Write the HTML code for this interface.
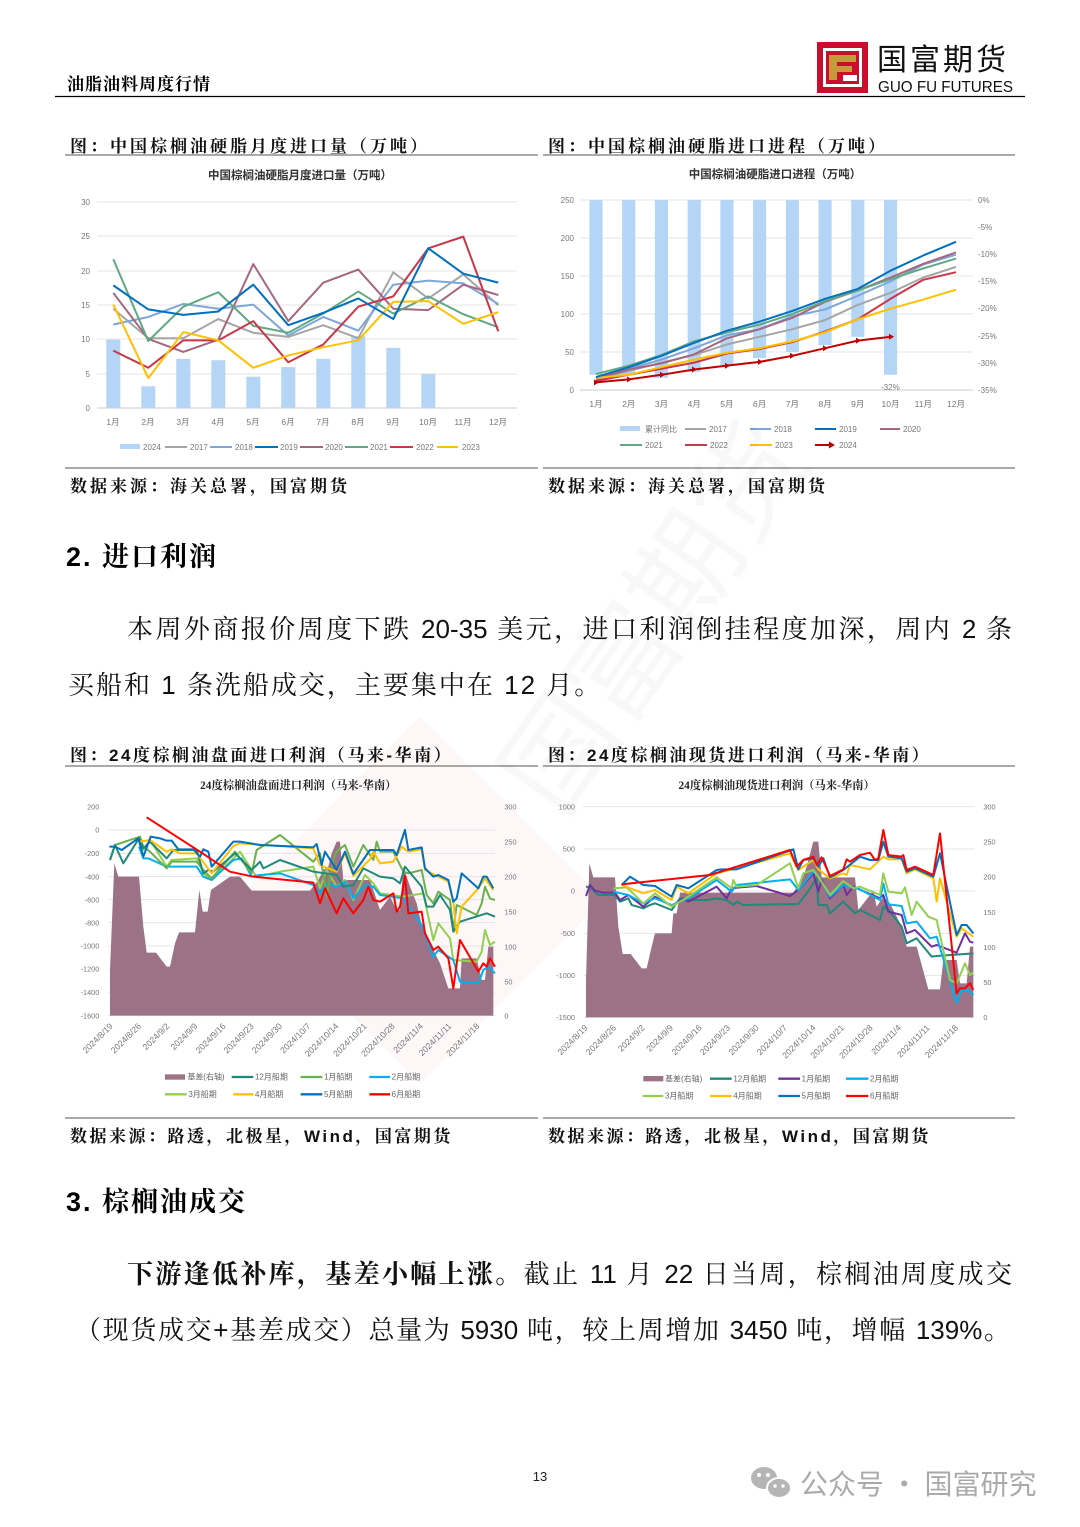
<!DOCTYPE html>
<html><head><meta charset="utf-8"><style>
body{margin:0;background:#fff;}
#pg{position:relative;width:1080px;height:1527px;overflow:hidden;background:#fff;font-family:"Liberation Sans","Noto Sans CJK SC",sans-serif;}
.t{position:absolute;white-space:nowrap;}
.cap{font-family:"Liberation Sans","Noto Serif CJK SC",serif;font-weight:bold;font-size:17px;letter-spacing:3px;color:#111;}
.para{position:absolute;font-family:"Liberation Sans","Noto Serif CJK SC",serif;font-size:26px;color:#111;white-space:nowrap;}
.j{text-align:justify;text-align-last:justify;white-space:normal;}
svg text{font-family:"Liberation Sans","Noto Sans CJK SC",sans-serif;}
</style></head><body><div id="pg">
<svg width="1080" height="1527" style="position:absolute;left:0;top:0">
<!-- header -->
<line x1="55" y1="96.5" x2="1025" y2="96.5" stroke="#000" stroke-width="1.2"/>
<rect x="817" y="42" width="51" height="51" fill="#c8102e"/>
<rect x="823" y="48" width="39" height="39" fill="#fff"/>
<rect x="826" y="51" width="33" height="33" fill="#c8102e"/>
<path d="M829 55 H856 V62 H837 V66 H852 V72 H837 V80 H829 Z" fill="#c49a3a"/>
<path d="M840 72 H858 V84 H840 Z" fill="#c8102e"/>
<rect x="843" y="75" width="14" height="6" fill="#fff"/>
<text x="877" y="70" font-size="30" fill="#111" style="font-family:'Noto Sans CJK SC',sans-serif" letter-spacing="3">国富期货</text>
<text x="878" y="92" font-size="16" fill="#111" textLength="135" lengthAdjust="spacingAndGlyphs">GUO  FU  FUTURES</text>
<!-- caption lines -->
<line x1="65" y1="155" x2="538" y2="155" stroke="#555" stroke-width="1"/>
<line x1="543" y1="155" x2="1015" y2="155" stroke="#555" stroke-width="1"/>
<line x1="65" y1="468" x2="538" y2="468" stroke="#555" stroke-width="1"/>
<line x1="543" y1="468" x2="1015" y2="468" stroke="#555" stroke-width="1"/>
<line x1="65" y1="766" x2="538" y2="766" stroke="#555" stroke-width="1"/>
<line x1="543" y1="766" x2="1015" y2="766" stroke="#555" stroke-width="1"/>
<line x1="65" y1="1118" x2="538" y2="1118" stroke="#555" stroke-width="1"/>
<line x1="543" y1="1118" x2="1015" y2="1118" stroke="#555" stroke-width="1"/>

<!-- ===== Chart 1 ===== -->
<text x="300" y="179" font-size="11.5" font-weight="bold" text-anchor="middle" fill="#333">中国棕榈油硬脂月度进口量（万吨）</text>
<g stroke="#e4e4e4" stroke-width="1">
<line x1="97" y1="202" x2="517" y2="202"/><line x1="97" y1="236" x2="517" y2="236"/><line x1="97" y1="271" x2="517" y2="271"/><line x1="97" y1="305" x2="517" y2="305"/><line x1="97" y1="339" x2="517" y2="339"/><line x1="97" y1="374" x2="517" y2="374"/><line x1="97" y1="408" x2="517" y2="408" stroke="#ccc"/>
</g>
<g font-size="8" fill="#777" text-anchor="end">
<text x="90" y="205">30</text><text x="90" y="239">25</text><text x="90" y="274">20</text><text x="90" y="308">15</text><text x="90" y="342">10</text><text x="90" y="377">5</text><text x="90" y="411">0</text>
</g>
<g font-size="8.5" fill="#777" text-anchor="middle">
<text x="113" y="425">1月</text><text x="148" y="425">2月</text><text x="183" y="425">3月</text><text x="218" y="425">4月</text><text x="253" y="425">5月</text><text x="288" y="425">6月</text><text x="323" y="425">7月</text><text x="358" y="425">8月</text><text x="393" y="425">9月</text><text x="428" y="425">10月</text><text x="463" y="425">11月</text><text x="498" y="425">12月</text>
</g>
<svg x="113.3" y="202.3" width="385" height="206" viewBox="0 0 11 30" preserveAspectRatio="none" overflow="visible">
<g fill="#b4d5f5">
<rect x="-0.2" y="20" width="0.4" height="10"/><rect x="0.8" y="26.8" width="0.4" height="3.2"/><rect x="1.8" y="22.8" width="0.4" height="7.2"/><rect x="2.8" y="23" width="0.4" height="7"/><rect x="3.8" y="25.4" width="0.4" height="4.6"/><rect x="4.8" y="24" width="0.4" height="6"/><rect x="5.8" y="22.8" width="0.4" height="7.2"/><rect x="6.8" y="19.5" width="0.4" height="10.5"/><rect x="7.8" y="21.2" width="0.4" height="8.8"/><rect x="8.8" y="25" width="0.4" height="5"/>
</g>
<g fill="none" stroke-width="2" stroke-linejoin="round">
<polyline vector-effect="non-scaling-stroke" stroke="#a5a5a5" points="0,15.5 1,19.8 2,19.8 3,17 4,19 5,19.6 6,17.9 7,19.8 8,10.2 9,14 10,10.5 11,15"/>
<polyline vector-effect="non-scaling-stroke" stroke="#7ea6d8" points="0,17.8 1,16.7 2,14.8 3,15.5 4,14.9 5,19.4 6,16.7 7,18.7 8,12 9,11.4 10,11.8 11,14.8"/>
<polyline vector-effect="non-scaling-stroke" stroke="#a5677f" points="0,13.2 1,19.9 2,21.8 3,20 4,9 5,17.3 6,11.7 7,9.8 8,15.5 9,15.7 10,12 11,13.5"/>
<polyline vector-effect="non-scaling-stroke" stroke="#5fa882" points="0,8.3 1,20.2 2,15.2 3,13.1 4,18 5,19 6,16.2 7,13 8,16.2 9,13.7 10,16.3 11,18.2"/>
<polyline vector-effect="non-scaling-stroke" stroke="#c8374a" points="0,21.6 1,24.1 2,20.1 3,20.1 4,17.3 5,23.3 6,20.7 7,15.2 8,13.7 9,6.7 10,5 11,18.8"/>
<polyline vector-effect="non-scaling-stroke" stroke="#ffc000" points="0,14.9 1,25.6 2,18.9 3,20.1 4,24.1 5,22.3 6,21.1 7,20.1 8,14.5 9,14.4 10,17.7 11,16"/>
<polyline vector-effect="non-scaling-stroke" stroke="#0070c0" points="0,12.1 1,15.6 2,16.4 3,15.9 4,12 5,17.9 6,16.1 7,14 8,17 9,6.7 10,10.4 11,11.7"/>
</g>
</svg>
<g font-size="8" fill="#777">
<rect x="120" y="444" width="20" height="5" fill="#b4d5f5"/><text x="143" y="450">2024</text>
<line x1="165" y1="447" x2="187" y2="447" stroke="#a5a5a5" stroke-width="2"/><text x="190" y="450">2017</text>
<line x1="210" y1="447" x2="232" y2="447" stroke="#7ea6d8" stroke-width="2"/><text x="235" y="450">2018</text>
<line x1="255" y1="447" x2="278" y2="447" stroke="#0070c0" stroke-width="2"/><text x="280" y="450">2019</text>
<line x1="300" y1="447" x2="323" y2="447" stroke="#a5677f" stroke-width="2"/><text x="325" y="450">2020</text>
<line x1="345" y1="447" x2="368" y2="447" stroke="#5fa882" stroke-width="2"/><text x="370" y="450">2021</text>
<line x1="390" y1="447" x2="413" y2="447" stroke="#c8374a" stroke-width="2"/><text x="416" y="450">2022</text>
<line x1="437" y1="447" x2="458" y2="447" stroke="#ffc000" stroke-width="2"/><text x="462" y="450">2023</text>
</g>

<!-- ===== Chart 2 ===== -->
<text x="775" y="178" font-size="11.5" font-weight="bold" text-anchor="middle" fill="#333">中国棕榈油硬脂进口进程（万吨）</text>
<g stroke="#e4e4e4" stroke-width="1">
<line x1="580" y1="200" x2="973" y2="200"/><line x1="580" y1="238" x2="973" y2="238"/><line x1="580" y1="276" x2="973" y2="276"/><line x1="580" y1="314" x2="973" y2="314"/><line x1="580" y1="352" x2="973" y2="352"/><line x1="580" y1="390" x2="973" y2="390" stroke="#ccc"/>
</g>
<g font-size="8" fill="#777" text-anchor="end">
<text x="574" y="203">250</text><text x="574" y="241">200</text><text x="574" y="279">150</text><text x="574" y="317">100</text><text x="574" y="355">50</text><text x="574" y="393">0</text>
</g>
<g font-size="8" fill="#777">
<text x="978" y="203">0%</text><text x="978" y="230">-5%</text><text x="978" y="257">-10%</text><text x="978" y="284">-15%</text><text x="978" y="311">-20%</text><text x="978" y="339">-25%</text><text x="978" y="366">-30%</text><text x="978" y="393">-35%</text>
<text x="881" y="390">-32%</text>
</g>
<g font-size="8.5" fill="#777" text-anchor="middle">
<text x="596" y="407">1月</text><text x="628.7" y="407">2月</text><text x="661.5" y="407">3月</text><text x="694.2" y="407">4月</text><text x="726.9" y="407">5月</text><text x="759.6" y="407">6月</text><text x="792.4" y="407">7月</text><text x="825.1" y="407">8月</text><text x="857.8" y="407">9月</text><text x="890.5" y="407">10月</text><text x="923.3" y="407">11月</text><text x="956" y="407">12月</text>
</g>
<svg x="596" y="200" width="360" height="190" viewBox="0 0 11 250" preserveAspectRatio="none" overflow="visible">
<g fill="#b4d5f5">
<rect x="-0.2" y="0" width="0.4" height="230"/><rect x="0.8" y="0" width="0.4" height="230"/><rect x="1.8" y="0" width="0.4" height="234"/><rect x="2.8" y="0" width="0.4" height="226"/><rect x="3.8" y="0" width="0.4" height="217"/><rect x="4.8" y="0" width="0.4" height="208"/><rect x="5.8" y="0" width="0.4" height="200"/><rect x="6.8" y="0" width="0.4" height="191"/><rect x="7.8" y="0" width="0.4" height="180"/><rect x="8.8" y="0" width="0.4" height="230"/>
</g>
<g fill="none" stroke-linejoin="round">
<polyline vector-effect="non-scaling-stroke" stroke-width="2" stroke="#a5a5a5" points="0,236 1,225 2,214 3,204 4,190 5,180 6,170 7,158 8,138 9,122 10,102 11,88"/>
<polyline vector-effect="non-scaling-stroke" stroke-width="2" stroke="#7ea6d8" points="0,234 1,222 2,210 3,195 4,178 5,170 6,153 7,144 8,126 9,107 10,85 11,72"/>
<polyline vector-effect="non-scaling-stroke" stroke-width="2" stroke="#a5677f" points="0,235 1,223 2,215 3,203 4,182 5,170 6,155 7,134 8,119 9,102 10,84 11,69"/>
<polyline vector-effect="non-scaling-stroke" stroke-width="2" stroke="#c8374a" points="0,238 1,230 2,222 3,214 4,202 5,196 6,187 7,173 8,157 9,130 10,105 11,95"/>
<polyline vector-effect="non-scaling-stroke" stroke-width="2" stroke="#ffc000" points="0,234 1,230 2,220 3,210 4,201 5,195 6,186 7,174 8,157 9,143 10,131 11,118"/>
<polyline vector-effect="non-scaling-stroke" stroke-width="2" stroke="#5fa882" points="0,229 1,218 2,204 3,186 4,174 5,164 6,150 7,133 8,119 9,104 10,90 11,77"/>
<polyline vector-effect="non-scaling-stroke" stroke-width="2" stroke="#0070c0" points="0,233 1,220 2,205 3,188 4,172 5,160 6,146 7,130 8,117 9,93 10,73 11,55"/>
<polyline vector-effect="non-scaling-stroke" stroke-width="2" stroke="#c00000" points="0,240 1,236 2,230 3,223 4,218 5,213 6,205 7,195 8,185 9,180"/>
</g>
</svg>
<g fill="#c00000">
<path d="M594 379.4l5 3-5 3z"/><path d="M627 376.4l5 3-5 3z"/><path d="M660 371.8l5 3-5 3z"/><path d="M692 366.5l5 3-5 3z"/><path d="M725 362.7l5 3-5 3z"/><path d="M758 358.9l5 3-5 3z"/><path d="M790 352.8l5 3-5 3z"/><path d="M823 345.2l5 3-5 3z"/><path d="M856 337.6l5 3-5 3z"/><path d="M889 333.8l5 3-5 3z"/>
</g>
<g font-size="8" fill="#777">
<rect x="620" y="426" width="20" height="5" fill="#b4d5f5"/><text x="645" y="432">累计同比</text>
<line x1="685" y1="429" x2="706" y2="429" stroke="#a5a5a5" stroke-width="2"/><text x="709" y="432">2017</text>
<line x1="750" y1="429" x2="771" y2="429" stroke="#7ea6d8" stroke-width="2"/><text x="774" y="432">2018</text>
<line x1="815" y1="429" x2="836" y2="429" stroke="#0070c0" stroke-width="2"/><text x="839" y="432">2019</text>
<line x1="880" y1="429" x2="900" y2="429" stroke="#a5677f" stroke-width="2"/><text x="903" y="432">2020</text>
<line x1="620" y1="445" x2="642" y2="445" stroke="#5fa882" stroke-width="2"/><text x="645" y="448">2021</text>
<line x1="685" y1="445" x2="707" y2="445" stroke="#c8374a" stroke-width="2"/><text x="710" y="448">2022</text>
<line x1="750" y1="445" x2="772" y2="445" stroke="#ffc000" stroke-width="2"/><text x="775" y="448">2023</text>
<line x1="815" y1="445" x2="830" y2="445" stroke="#c00000" stroke-width="2"/><path d="M829 441.5l6 3.5-6 3.5z" fill="#c00000"/><text x="839" y="448">2024</text>
</g>

<!-- faint watermark -->
<g opacity="0.035" transform="translate(420,900) rotate(-45)">
<rect x="-130" y="-130" width="260" height="260" fill="#c8102e"/>
</g>
<text x="560" y="820" font-size="110" fill="#000" opacity="0.025" transform="rotate(-55 560 820)" style="font-family:'Noto Sans CJK SC',sans-serif">国富期货</text>

<!-- ===== Chart 3 ===== -->
<g transform="translate(60,770) scale(0.33333)">
<text x="715" y="57" font-size="34" font-weight="bold" text-anchor="middle" fill="#222" style="font-family:'Liberation Serif','Noto Serif CJK SC',serif">24度棕榈油盘面进口利润（马来-华南）</text>
<g stroke="#e4e4e4" stroke-width="3">
<line x1="145" y1="180" x2="1305" y2="180"/><line x1="145" y1="250" x2="1305" y2="250"/><line x1="145" y1="320" x2="1305" y2="320"/><line x1="145" y1="389" x2="1305" y2="389"/><line x1="145" y1="458" x2="1305" y2="458"/><line x1="145" y1="528" x2="1305" y2="528"/><line x1="145" y1="597" x2="1305" y2="597"/><line x1="145" y1="667" x2="1305" y2="667"/><line x1="145" y1="737" x2="1305" y2="737"/>
</g>
<g font-size="22" fill="#777" text-anchor="end">
<text x="118" y="118">200</text><text x="118" y="188">0</text><text x="118" y="258">-200</text><text x="118" y="328">-400</text><text x="118" y="397">-600</text><text x="118" y="466">-800</text><text x="118" y="536">-1000</text><text x="118" y="605">-1200</text><text x="118" y="675">-1400</text><text x="118" y="745">-1600</text>
</g>
<g font-size="22" fill="#777">
<text x="1333" y="118">300</text><text x="1333" y="223">250</text><text x="1333" y="328">200</text><text x="1333" y="433">150</text><text x="1333" y="538">100</text><text x="1333" y="643">50</text><text x="1333" y="745">0</text>
</g>
<path fill="#9b7286" d="M150,737 L150,600 L163,280 L175,320 L237,320 L250,470 L260,548 L288,548 L320,590 L330,590 L345,520 L357,487 L405,487 L418,360 L428,425 L443,425 L453,360 L510,320 L540,320 L575,362 L750,362 L775,330 L790,300 L805,290 L815,250 L830,215 L840,215 L850,330 L900,330 L930,330 L960,420 L990,380 L1010,420 L1020,420 L1030,290 L1050,350 L1070,400 L1085,465 L1100,500 L1140,580 L1165,655 L1200,655 L1205,565 L1250,565 L1265,630 L1275,630 L1285,530 L1300,530 L1300,737 Z"/>
<g fill="none" stroke-width="6" stroke-linejoin="round">
<polyline stroke="#92d050" points="237,205 250,240 270,210 320,290 335,270 410,265 430,310 455,330 520,265 540,245 575,300 590,320 660,305 760,290 780,355 800,300 830,350 855,330 880,390 915,315 940,340 960,370 1030,380 1090,370 1120,510 1135,460 1170,505 1180,570 1250,575 1265,545 1275,480 1290,525 1305,515"/>
<polyline stroke="#00b0f0" points="237,230 250,265 265,265 320,290 335,290 410,290 430,320 455,330 520,270 545,265 575,320 600,315 660,310 760,345 780,370 800,340 830,350 855,335 880,385 915,345 940,350 960,375 1030,385 1085,465 1120,560 1135,540 1180,570 1200,635 1255,640 1270,600 1285,590 1305,610"/>
<polyline stroke="#6ab04c" points="150,270 165,225 240,200 250,230 270,245 320,295 335,275 410,275 430,300 455,325 525,245 575,310 590,240 660,195 760,275 780,250 800,380 820,270 830,245 855,225 880,290 910,225 940,270 950,215 960,245 1000,245 1030,305 1045,310 1085,300 1100,375 1120,400 1135,365 1170,390 1180,480 1190,405 1250,435 1265,400 1275,350 1290,385 1305,390"/>
<polyline stroke="#1f8a7a" points="150,270 165,225 190,280 237,205 250,235 270,215 320,265 340,240 410,240 430,310 445,300 460,305 525,250 575,300 600,275 610,295 660,270 760,305 830,315 850,350 880,345 910,295 960,320 1000,325 1020,340 1035,290 1085,350 1100,410 1120,410 1140,375 1170,420 1180,485 1200,455 1280,430 1305,440"/>
<polyline stroke="#ffc000" points="240,215 270,210 320,245 335,238 360,250 410,250 455,310 520,228 540,220 760,235 780,285 830,305 855,250 880,318 930,268 940,245 960,280 1000,275 1025,230 1045,245 1085,238 1095,300 1165,335 1180,395 1190,490 1205,410 1255,355 1275,325 1300,360"/>
<polyline stroke="#0070c0" points="148,230 165,230 185,240 235,205 250,260 272,200 300,205 320,212 335,212 355,238 400,238 420,260 430,238 445,245 455,290 520,215 540,215 600,225 760,232 770,222 785,285 795,245 830,300 855,245 880,312 930,240 1000,240 1010,255 1035,180 1045,240 1085,232 1095,295 1120,320 1135,315 1165,330 1180,395 1190,385 1205,310 1255,355 1270,320 1280,320 1300,355"/>
<polyline stroke="#ff0000" points="260,142 420,245 510,305 580,320 760,338 780,400 795,355 830,430 850,385 880,430 910,390 925,350 940,390 960,395 1000,370 1010,425 1020,410 1035,318 1045,430 1085,425 1095,490 1120,540 1135,530 1165,565 1180,655 1200,510 1255,605 1270,580 1280,590 1290,565 1305,590"/>
</g>
<g font-size="26" fill="#777" text-anchor="end">
<text transform="translate(160,770) rotate(-45)">2024/8/19</text>
<text transform="translate(245,770) rotate(-45)">2024/8/26</text>
<text transform="translate(330,770) rotate(-45)">2024/9/2</text>
<text transform="translate(414,770) rotate(-45)">2024/9/9</text>
<text transform="translate(499,770) rotate(-45)">2024/9/16</text>
<text transform="translate(583,770) rotate(-45)">2024/9/23</text>
<text transform="translate(668,770) rotate(-45)">2024/9/30</text>
<text transform="translate(753,770) rotate(-45)">2024/10/7</text>
<text transform="translate(837,770) rotate(-45)">2024/10/14</text>
<text transform="translate(922,770) rotate(-45)">2024/10/21</text>
<text transform="translate(1006,770) rotate(-45)">2024/10/28</text>
<text transform="translate(1091,770) rotate(-45)">2024/11/4</text>
<text transform="translate(1176,770) rotate(-45)">2024/11/11</text>
<text transform="translate(1260,770) rotate(-45)">2024/11/18</text>
</g>
<g font-size="24" fill="#666">
<rect x="315" y="913" width="60" height="16" fill="#9b7286"/><text x="382" y="929">基差(右轴)</text>
<line x1="515" y1="921" x2="580" y2="921" stroke="#1f8a7a" stroke-width="7"/><text x="585" y="929">12月船期</text>
<line x1="722" y1="921" x2="787" y2="921" stroke="#6ab04c" stroke-width="7"/><text x="792" y="929">1月船期</text>
<line x1="928" y1="921" x2="990" y2="921" stroke="#00b0f0" stroke-width="7"/><text x="995" y="929">2月船期</text>
<line x1="315" y1="973" x2="380" y2="973" stroke="#92d050" stroke-width="7"/><text x="385" y="981">3月船期</text>
<line x1="520" y1="973" x2="580" y2="973" stroke="#ffc000" stroke-width="7"/><text x="585" y="981">4月船期</text>
<line x1="722" y1="973" x2="787" y2="973" stroke="#0070c0" stroke-width="7"/><text x="792" y="981">5月船期</text>
<line x1="928" y1="973" x2="990" y2="973" stroke="#ff0000" stroke-width="7"/><text x="995" y="981">6月船期</text>
</g>
</g>

<!-- ===== Chart 4 ===== -->
<g transform="translate(540,770) scale(0.33333)">
<text x="710" y="57" font-size="34" font-weight="bold" text-anchor="middle" fill="#222" style="font-family:'Liberation Serif','Noto Serif CJK SC',serif">24度棕榈油现货进口利润（马来-华南）</text>
<g stroke="#e4e4e4" stroke-width="3">
<line x1="130" y1="110" x2="1305" y2="110"/><line x1="130" y1="237" x2="1305" y2="237"/><line x1="130" y1="363" x2="1305" y2="363"/><line x1="130" y1="490" x2="1305" y2="490"/><line x1="130" y1="616" x2="1305" y2="616"/><line x1="130" y1="742" x2="1305" y2="742"/>
</g>
<g font-size="22" fill="#777" text-anchor="end">
<text x="105" y="118">1000</text><text x="105" y="245">500</text><text x="105" y="371">0</text><text x="105" y="498">-500</text><text x="105" y="624">-1000</text><text x="105" y="750">-1500</text>
</g>
<g font-size="22" fill="#777">
<text x="1330" y="118">300</text><text x="1330" y="223">250</text><text x="1330" y="328">200</text><text x="1330" y="435">150</text><text x="1330" y="540">100</text><text x="1330" y="645">50</text><text x="1330" y="750">0</text>
</g>
<path fill="#9b7286" d="M138,742 L138,630 L148,280 L160,322 L225,322 L235,470 L248,552 L272,552 L305,595 L320,595 L335,530 L345,490 L395,490 L400,430 L410,430 L420,368 L760,368 L790,320 L800,290 L820,215 L835,215 L845,322 L945,322 L955,420 L990,375 L1000,360 L1010,410 L1030,380 L1050,400 L1080,460 L1100,530 L1130,530 L1165,658 L1200,658 L1210,570 L1250,570 L1260,640 L1280,640 L1290,530 L1300,530 L1300,742 Z"/>
<g fill="none" stroke-width="6" stroke-linejoin="round">
<polyline stroke="#1f8a7a" points="138,350 150,352 175,375 225,375 240,395 265,385 275,405 310,415 330,405 345,400 395,420 420,385 440,390 500,390 530,385 560,390 580,405 590,395 610,405 775,402 800,370 830,325 835,405 860,405 870,430 910,395 945,430 960,420 1020,450 1030,410 1045,420 1085,470 1100,520 1130,505 1175,560 1190,558 1300,550"/>
<polyline stroke="#7030a0" points="138,378 150,345 165,362 190,368 225,368 240,390 265,375 310,410 345,380 395,408 430,385 445,395 530,350 560,385 575,355 600,352 650,348 750,378 775,360 820,310 835,365 845,330 870,385 910,345 920,375 940,350 1020,385 1030,375 1045,425 1085,435 1100,490 1125,480 1175,530 1190,525 1250,548 1275,490 1290,515 1300,518"/>
<polyline stroke="#00b0f0" points="220,365 265,375 310,400 345,385 395,405 445,385 530,330 575,365 590,345 750,328 775,360 820,305 835,318 870,380 910,345 960,358 1020,390 1030,340 1045,403 1085,408 1100,460 1130,455 1170,505 1190,500 1250,698 1265,660 1285,660 1300,675"/>
<polyline stroke="#92d050" points="220,355 260,352 310,400 345,370 395,410 445,380 530,322 575,355 580,330 590,350 650,345 750,280 775,355 790,310 820,300 835,320 870,375 910,333 940,355 960,350 1020,375 1030,310 1045,365 1085,370 1095,352 1115,435 1130,395 1165,440 1190,450 1230,630 1250,640 1275,580 1290,615 1300,608"/>
<polyline stroke="#ffc000" points="245,345 310,370 345,360 395,390 410,350 445,370 530,310 590,295 750,250 775,300 820,270 835,298 870,325 910,310 920,315 930,285 990,298 1030,260 1045,268 1085,268 1100,310 1125,298 1180,325 1190,395 1200,325 1250,500 1265,475 1300,500"/>
<polyline stroke="#0070c0" points="245,345 270,320 310,345 345,348 395,380 410,345 445,355 530,300 545,298 590,298 760,238 775,298 790,270 820,265 835,290 850,265 870,322 910,300 960,260 990,270 1015,270 1030,215 1045,260 1085,265 1100,305 1125,295 1180,320 1200,250 1250,495 1265,465 1280,465 1300,490"/>
<polyline stroke="#ff0000" points="245,343 510,315 750,240 770,290 790,270 820,260 830,285 845,262 870,318 910,298 920,268 930,275 960,255 990,248 1005,270 1015,265 1030,180 1045,255 1085,260 1090,255 1100,300 1125,290 1180,315 1200,190 1250,670 1260,655 1275,655 1290,640 1300,660"/>
</g>
<g font-size="26" fill="#777" text-anchor="end">
<text transform="translate(145,775) rotate(-45)">2024/8/19</text>
<text transform="translate(230,775) rotate(-45)">2024/8/26</text>
<text transform="translate(316,775) rotate(-45)">2024/9/2</text>
<text transform="translate(401,775) rotate(-45)">2024/9/9</text>
<text transform="translate(487,775) rotate(-45)">2024/9/16</text>
<text transform="translate(572,775) rotate(-45)">2024/9/23</text>
<text transform="translate(658,775) rotate(-45)">2024/9/30</text>
<text transform="translate(743,775) rotate(-45)">2024/10/7</text>
<text transform="translate(829,775) rotate(-45)">2024/10/14</text>
<text transform="translate(914,775) rotate(-45)">2024/10/21</text>
<text transform="translate(1000,775) rotate(-45)">2024/10/28</text>
<text transform="translate(1085,775) rotate(-45)">2024/11/4</text>
<text transform="translate(1171,775) rotate(-45)">2024/11/11</text>
<text transform="translate(1256,775) rotate(-45)">2024/11/18</text>
</g>
<g font-size="24" fill="#666">
<rect x="310" y="918" width="60" height="16" fill="#9b7286"/><text x="375" y="934">基差(右轴)</text>
<line x1="510" y1="926" x2="575" y2="926" stroke="#1f8a7a" stroke-width="7"/><text x="580" y="934">12月船期</text>
<line x1="715" y1="926" x2="780" y2="926" stroke="#7030a0" stroke-width="7"/><text x="785" y="934">1月船期</text>
<line x1="918" y1="926" x2="985" y2="926" stroke="#00b0f0" stroke-width="7"/><text x="990" y="934">2月船期</text>
<line x1="308" y1="978" x2="370" y2="978" stroke="#92d050" stroke-width="7"/><text x="375" y="986">3月船期</text>
<line x1="510" y1="978" x2="575" y2="978" stroke="#ffc000" stroke-width="7"/><text x="580" y="986">4月船期</text>
<line x1="715" y1="978" x2="780" y2="978" stroke="#0070c0" stroke-width="7"/><text x="785" y="986">5月船期</text>
<line x1="918" y1="978" x2="985" y2="978" stroke="#ff0000" stroke-width="7"/><text x="990" y="986">6月船期</text>
</g>
</g>

<!-- footer -->
<text x="540" y="1481" font-size="13" text-anchor="middle" fill="#222">13</text>
<g fill="#b5b5b5">
<ellipse cx="764" cy="1478" rx="13" ry="11"/>
<ellipse cx="779" cy="1488" rx="12" ry="10" stroke="#fff" stroke-width="2"/>
<circle cx="759" cy="1475" r="2" fill="#fff"/><circle cx="768" cy="1475" r="2" fill="#fff"/>
<circle cx="775" cy="1486" r="1.7" fill="#fff"/><circle cx="783" cy="1486" r="1.7" fill="#fff"/>
</g>
<text x="800" y="1494" font-size="28" fill="#aaa" style="font-family:'Noto Sans CJK SC',sans-serif">公众号 · 国富研究</text>
</svg>

<div class="t" style="left:67px;top:70px;font-size:17px;font-weight:bold;letter-spacing:1px;font-family:'Liberation Sans','Noto Serif CJK SC',serif;">油脂油料周度行情</div>
<div class="t cap" style="left:70px;top:132px;">图：中国棕榈油硬脂月度进口量（万吨）</div>
<div class="t cap" style="left:548px;top:132px;">图：中国棕榈油硬脂进口进程（万吨）</div>
<div class="t cap" style="left:70px;top:472px;">数据来源：海关总署，国富期货</div>
<div class="t cap" style="left:548px;top:472px;">数据来源：海关总署，国富期货</div>
<div class="t" style="left:66px;top:535px;font-size:27px;font-weight:bold;font-family:'Liberation Sans','Noto Serif CJK SC',serif;letter-spacing:2px;">2. 进口利润</div>
<div class="para j" style="left:127px;top:609px;width:885px;">本周外商报价周度下跌 20-35 美元，进口利润倒挂程度加深，周内 2 条</div>
<div class="para" style="left:68px;top:665px;letter-spacing:2px;">买船和 1 条洗船成交，主要集中在 12 月。</div>
<div class="t cap" style="left:70px;top:741px;letter-spacing:2.5px;">图：24度棕榈油盘面进口利润（马来-华南）</div>
<div class="t cap" style="left:548px;top:741px;letter-spacing:2.5px;">图：24度棕榈油现货进口利润（马来-华南）</div>
<div class="t cap" style="left:70px;top:1122px;letter-spacing:2.5px;">数据来源：路透，北极星，Wind，国富期货</div>
<div class="t cap" style="left:548px;top:1122px;letter-spacing:2.5px;">数据来源：路透，北极星，Wind，国富期货</div>
<div class="t" style="left:66px;top:1180px;font-size:27px;font-weight:bold;font-family:'Liberation Sans','Noto Serif CJK SC',serif;letter-spacing:2px;">3. 棕榈油成交</div>
<div class="para j" style="left:127px;top:1254px;width:885px;"><b>下游逢低补库，基差小幅上涨。</b>截止 11 月 22 日当周，棕榈油周度成交</div>
<div class="para j" style="left:75px;top:1310px;width:935px;">（现货成交+基差成交）总量为 5930 吨，较上周增加 3450 吨，增幅 139%。</div>
</div></body></html>
